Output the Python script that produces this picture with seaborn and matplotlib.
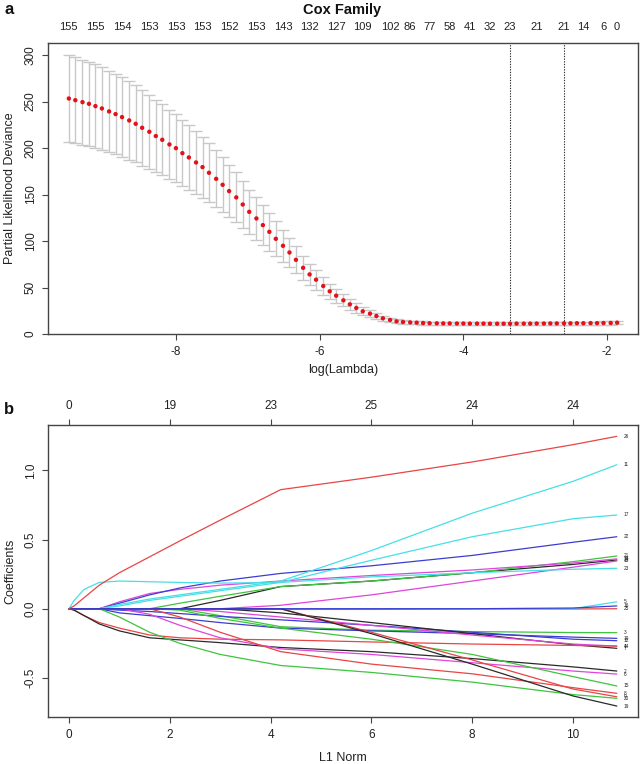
import matplotlib
matplotlib.use("Agg")
import matplotlib.pyplot as plt
import seaborn as sns

# ---------------- panel a data ----------------
log_lambda = [-9.49, -9.40, -9.30, -9.21, -9.12, -9.03, -8.93, -8.84, -8.75, -8.65,
              -8.56, -8.47, -8.37, -8.28, -8.19, -8.09, -8.00, -7.91, -7.82, -7.72,
              -7.63, -7.54, -7.44, -7.35, -7.26, -7.16, -7.07, -6.98, -6.88, -6.79,
              -6.70, -6.61, -6.51, -6.42, -6.33, -6.23, -6.14, -6.05, -5.95, -5.86,
              -5.77, -5.67, -5.58, -5.49, -5.40, -5.30, -5.21, -5.12, -5.02, -4.93,
              -4.84, -4.74, -4.65, -4.56, -4.47, -4.37, -4.28, -4.19, -4.09, -4.00,
              -3.91, -3.81, -3.72, -3.63, -3.53, -3.44, -3.35, -3.26, -3.16, -3.07,
              -2.98, -2.88, -2.79, -2.70, -2.60, -2.51, -2.42, -2.33, -2.23, -2.14,
              -2.05, -1.95, -1.86]
cv_mean = [253.3, 251.5, 249.4, 247.6, 245.1, 242.6, 239.4, 236.5, 233.3, 229.7,
           226.1, 221.8, 217.5, 212.9, 208.9, 203.9, 199.9, 194.5, 189.9, 184.5,
           179.5, 173.4, 166.9, 160.5, 153.7, 146.9, 139.3, 131.4, 124.3, 117.1,
           109.9, 102.4, 94.9, 87.7, 79.8, 71.2, 64.1, 58.4, 51.6, 45.9,
           41.2, 36.2, 31.9, 28.0, 24.4, 21.9, 19.4, 16.9, 15.1, 13.6,
           12.9, 12.5, 12.2, 11.8, 11.6, 11.5, 11.4, 11.4, 11.3, 11.3,
           11.2, 11.2, 11.2, 11.1, 11.1, 11.1, 11.1, 11.2, 11.2, 11.2,
           11.3, 11.3, 11.4, 11.4, 11.5, 11.5, 11.6, 11.6, 11.7, 11.7,
           11.8, 11.9, 12.2]
cv_se = [46.5, 46.2, 45.8, 45.4, 45.0, 44.5, 43.9, 43.4, 42.8, 42.1,
         41.4, 40.6, 39.8, 39.0, 38.2, 37.3, 36.5, 35.6, 34.7, 33.8,
         32.8, 31.7, 30.5, 29.4, 28.1, 26.9, 25.5, 24.0, 22.7, 21.4,
         20.1, 18.7, 17.3, 16.0, 14.6, 13.0, 11.7, 10.7, 9.4, 8.4,
         7.5, 6.6, 5.8, 5.1, 4.4, 3.9, 3.4, 2.9, 2.5, 2.2,
         2.0, 1.9, 1.8, 1.8, 1.7, 1.7, 1.7, 1.7, 1.7, 1.7,
         1.7, 1.7, 1.7, 1.7, 1.7, 1.7, 1.7, 1.7, 1.7, 1.7,
         1.7, 1.7, 1.7, 1.7, 1.7, 1.7, 1.7, 1.7, 1.7, 1.7,
         1.7, 1.7, 1.7]
nzero_idx = [0, 4, 8, 12, 16, 20, 24, 28, 32, 36, 40, 44, 48,
             51, 54, 57, 60, 63, 66, 70, 74, 77, 80, 82]
nzero_labels = ["155", "155", "154", "153", "153", "153", "152", "153", "143",
                "132", "127", "109", "102", "86", "77", "58", "41", "32", "23",
                "21", "21", "14", "6", "0"]
idx_min = 66
idx_1se = 74
a_xticks = [-8, -6, -4, -2]
a_yticks = [0, 50, 100, 150, 200, 250, 300]

# ---------------- panel b data ----------------
l1_norm = [0, 0.1, 0.3, 0.6, 1.0, 1.6, 2.2, 3.0, 4.2, 6.0, 8.0, 10.0, 10.87]
v26 = [0, 0.02, 0.08, 0.17, 0.26, 0.375, 0.49, 0.64, 0.86, 0.95, 1.06, 1.185, 1.245]
v11 = [0, 0, 0, 0, 0.03, 0.07, 0.10, 0.14, 0.20, 0.42, 0.69, 0.92, 1.04]
v17 = [0, 0, 0, 0, 0.02, 0.06, 0.09, 0.13, 0.19, 0.35, 0.52, 0.65, 0.677]
v22 = [0, 0, 0, 0, 0.04, 0.10, 0.15, 0.20, 0.255, 0.31, 0.385, 0.48, 0.52]
v21 = [0, 0, 0, 0, 0, 0, 0.04, 0.09, 0.16, 0.20, 0.26, 0.34, 0.381]
v18 = [0, 0, 0, 0, 0.05, 0.11, 0.14, 0.17, 0.20, 0.24, 0.28, 0.33, 0.36]
v24 = [0, 0, 0, 0, 0, 0, 0, 0.06, 0.16, 0.20, 0.26, 0.32, 0.352]
v13 = [0, 0, 0, 0, 0, 0, 0, 0, 0.025, 0.10, 0.20, 0.30, 0.345]
v23 = [0, 0.06, 0.14, 0.19, 0.20, 0.195, 0.19, 0.185, 0.19, 0.23, 0.26, 0.285, 0.292]
v5 = [0, 0, 0, 0, 0, 0, 0, 0, 0, 0, 0, 0, 0.05]
v16 = [0, 0, 0, 0, 0, 0, 0, 0, 0, 0, 0, 0.005, 0.02]
v25 = [0, 0, 0, 0, 0, 0, 0, 0, -0.005, -0.005, -0.002, -0.002, 0.0]
v3 = [0, 0, 0, 0, 0, 0, 0, -0.05, -0.13, -0.155, -0.165, -0.172, -0.173]
v10 = [0, 0, 0, 0, -0.03, -0.05, -0.07, -0.10, -0.14, -0.16, -0.18, -0.205, -0.214]
v12 = [0, 0, 0, 0, -0.01, -0.02, -0.035, -0.055, -0.08, -0.12, -0.17, -0.22, -0.231]
v14 = [0, -0.01, -0.05, -0.10, -0.14, -0.19, -0.21, -0.22, -0.225, -0.24, -0.255, -0.265, -0.27]
v4 = [0, 0, 0, 0, 0, 0, 0, -0.02, -0.06, -0.12, -0.19, -0.255, -0.27]
v7 = [0, 0, 0, 0, 0, 0, 0, 0, -0.03, -0.10, -0.18, -0.26, -0.286]
v2 = [0, -0.01, -0.05, -0.11, -0.16, -0.21, -0.225, -0.245, -0.28, -0.31, -0.36, -0.42, -0.45]
v6 = [0, 0, 0, 0, 0, -0.04, -0.12, -0.21, -0.29, -0.33, -0.39, -0.45, -0.472]
v15 = [0, 0, 0, 0, 0, 0, -0.01, -0.07, -0.14, -0.22, -0.33, -0.49, -0.558]
v8 = [0, 0, 0, 0, 0, 0, -0.06, -0.17, -0.31, -0.40, -0.47, -0.57, -0.611]
v9 = [0, 0, 0, 0, 0, 0, 0, 0, 0, -0.17, -0.37, -0.58, -0.636]
v20 = [0, 0, 0, 0, -0.06, -0.17, -0.25, -0.33, -0.41, -0.46, -0.53, -0.62, -0.647]
v19 = [0, 0, 0, 0, 0, 0, 0, 0, 0, -0.18, -0.40, -0.63, -0.703]
b_xticks = [0, 2, 4, 6, 8, 10]
df_labels = ["0", "19", "23", "25", "24", "24"]
b_yticks = [-0.5, 0.0, 0.5, 1.0]

BLACK, RED, GREEN = "#2a2a2a", "#E84545", "#3EC43E"
BLUE, CYAN, MAGENTA = "#3C3CD2", "#45E0E6", "#E045DC"
paths = [
    ("25", RED, v25), ("5", CYAN, v5), ("3", GREEN, v3), ("12", BLUE, v12),
    ("10", BLUE, v10), ("7", BLACK, v7), ("4", MAGENTA, v4), ("24", BLACK, v24),
    ("13", MAGENTA, v13), ("21", GREEN, v21), ("18", MAGENTA, v18),
    ("22", BLUE, v22), ("17", CYAN, v17), ("11", CYAN, v11), ("23", CYAN, v23),
    ("14", RED, v14), ("2", BLACK, v2), ("6", MAGENTA, v6), ("15", GREEN, v15),
    ("8", RED, v8), ("20", GREEN, v20), ("9", RED, v9), ("19", BLACK, v19),
    ("16", BLUE, v16), ("26", RED, v26),
]

# ---------------- figure ----------------
sns.set_theme(style="white")
plt.rcParams["font.family"] = ["Liberation Sans Narrow", "Liberation Sans", "DejaVu Sans"]
plt.rcParams["axes.unicode_minus"] = False
W, H = 641, 764
fig = plt.figure(figsize=(W / 100, H / 100), dpi=100)
ax1 = fig.add_axes([48 / W, 1 - 334 / H, 590 / W, 291 / H])
ax2 = fig.add_axes([48 / W, 1 - 717 / H, 590 / W, 292 / H])

EDGE = "#444444"
for ax in (ax1, ax2):
    for s in ax.spines.values():
        s.set_color(EDGE)
        s.set_linewidth(1.0)
        s.set_visible(True)
    ax.tick_params(axis="both", direction="out", length=4, width=0.8,
                   color=EDGE, labelsize=8.5, labelcolor="#222222",
                   bottom=True, left=True)
    ax.tick_params(axis="x", pad=5)
    ax.tick_params(axis="y", pad=4, labelrotation=90)
    ax.grid(False)

# panel a
ax1.errorbar(log_lambda, cv_mean, yerr=cv_se, fmt="none", ecolor="#C8C8C8",
             elinewidth=1.0, capsize=4, capthick=1.0, zorder=1)
sns.scatterplot(x=log_lambda, y=cv_mean, ax=ax1, color="#E3121A", s=10,
                edgecolor="none", linewidth=0, zorder=3, legend=False)
for i in (idx_min, idx_1se):
    ax1.axvline(log_lambda[i], color="#333333", lw=0.8, ls=(0, (1.2, 1.2)), zorder=2)
ax1.set_xlim(-9.78, -1.57)
ax1.set_ylim(0, 313)
ax1.set_xticks(a_xticks)
ax1.set_xticklabels([str(v) for v in a_xticks])
ax1.set_yticks(a_yticks)
for lbl in ax1.get_yticklabels():
    lbl.set_va("center")
ax1.set_xlabel("log(Lambda)", fontsize=9, color="#222222")
ax1.xaxis.set_label_coords(0.5, -0.124)
ax1.xaxis.label.set_va("center")
ax1.set_ylabel("Partial Likelihood Deviance", fontsize=9, color="#222222")
ax1.yaxis.set_label_coords(-0.064, 0.5)
ax1.yaxis.label.set_va("center")
sec1 = ax1.secondary_xaxis("top")
sec1.set_xticks([log_lambda[i] for i in nzero_idx])
sec1.set_xticklabels(nzero_labels)
sec1.tick_params(length=0, pad=8, labelsize=8, labelcolor="#222222")
sec1.spines["top"].set_visible(False)

# panel b
for lab, col, vals in paths:
    sns.lineplot(x=l1_norm, y=vals, ax=ax2, color=col, lw=0.9,
                 estimator=None, sort=False, legend=False)
    ax2.text(l1_norm[-1] + 0.14, vals[-1], lab, fontsize=3.4, ha="left",
             va="center", color="#222222")
ax2.set_xlim(-0.417, 11.29)
ax2.set_ylim(-0.782, 1.327)
ax2.set_xticks(b_xticks)
ax2.set_yticks(b_yticks)
ax2.set_yticklabels([f"{v:.1f}" for v in b_yticks])
for lbl in ax2.get_yticklabels():
    lbl.set_va("center")
ax2.set_xlabel("L1 Norm", fontsize=9, color="#222222")
ax2.xaxis.set_label_coords(0.5, -0.140)
ax2.xaxis.label.set_va("center")
ax2.set_ylabel("Coefficients", fontsize=9, color="#222222")
ax2.yaxis.set_label_coords(-0.064, 0.5)
ax2.yaxis.label.set_va("center")
sec2 = ax2.secondary_xaxis("top")
sec2.set_xticks(b_xticks)
sec2.set_xticklabels(df_labels)
sec2.tick_params(length=4, width=0.8, color=EDGE, pad=5, labelsize=8.5,
                 labelcolor="#222222", direction="out")
sec2.spines["top"].set_visible(False)

fig.text(342 / W, 1 - 10 / H, "Cox Family", ha="center", va="center",
         fontsize=10.5, fontweight="bold", color="#111111")
fig.text(9 / W, 1 - 9 / H, "a", ha="center", va="center", fontsize=12,
         fontweight="bold", color="#111111")
fig.text(9 / W, 1 - 410 / H, "b", ha="center", va="center", fontsize=12,
         fontweight="bold", color="#111111")

fig.savefig("out.png", dpi=100, facecolor="white")
